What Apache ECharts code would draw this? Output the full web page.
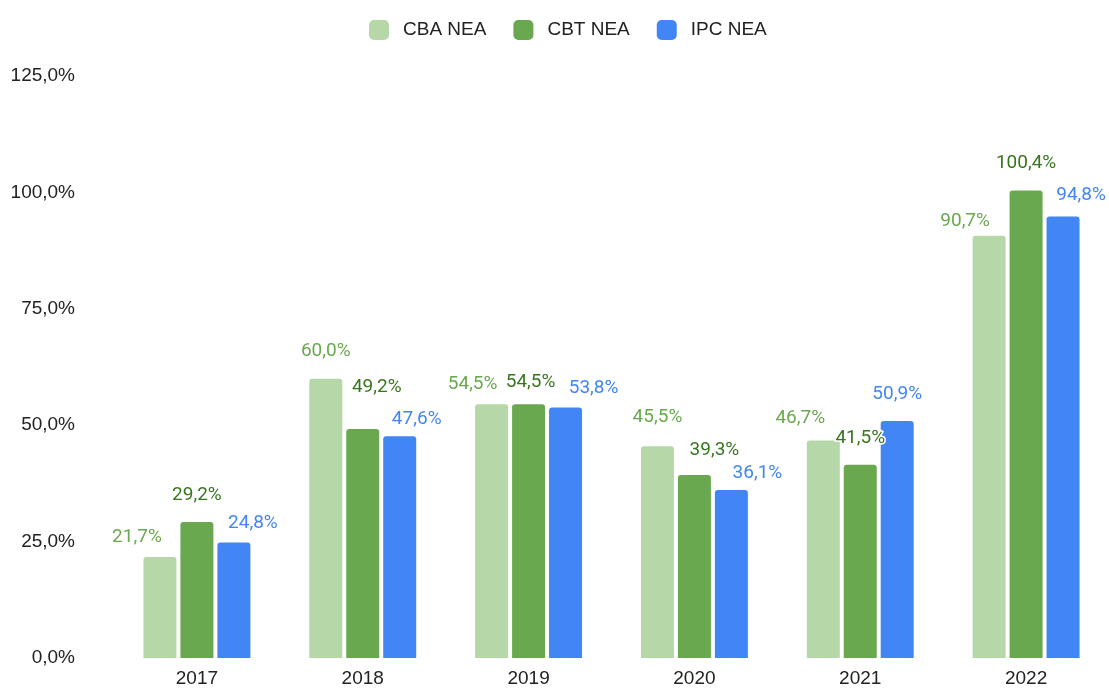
<!DOCTYPE html>
<html>
<head>
<meta charset="utf-8">
<script src="https://cdn.jsdelivr.net/npm/echarts@6/dist/echarts.min.js"></script>
<style>
  html, body { margin: 0; padding: 0; background: #fff; }
  #chart { width: 1109px; height: 688px; }
</style>
</head>
<body>
<div id="chart"></div>
<script>
  // values
  var years = ['2017', '2018', '2019', '2020', '2021', '2022'];
  var cbaNea = [21.7, 60.0, 54.5, 45.5, 46.7, 90.7];
  var cbtNea = [29.2, 49.2, 54.5, 39.3, 41.5, 100.4];
  var ipcNea = [24.8, 47.6, 53.8, 36.1, 50.9, 94.8];

  // label nudges [dx, dy] so the labels sit where the reference puts them
  var cbaNudge = [[-23, -5], [0, -13], [-19, -5], [0, -14], [-23, -8], [-24, 0]];
  var cbtNudge = [[0, -12], [14, -27], [2, -7], [20, -10], [0, -12], [0, -13]];
  var ipcNudge = [[19, -5], [17, -3], [28, -5], [26, -2], [0, -12], [18, -7]];

  function pct(v) {
    return v.toFixed(1).replace('.', ',') + '%';
  }

  function makeSeries(name, values, nudge, barColor, labelColor) {
    var items = [];
    for (var i = 0; i < values.length; i++) {
      items.push({
        value: values[i],
        label: { offset: nudge[i] }
      });
    }
    return {
      name: name,
      type: 'bar',
      barWidth: 33,
      barGap: '12%',
      itemStyle: { color: barColor, borderRadius: [3, 3, 0, 0] },
      label: {
        show: true,
        position: 'top',
        distance: 5,
        color: labelColor,
        fontFamily: 'Roboto',
        fontSize: 19,
        textBorderColor: '#fff',
        textBorderWidth: 3,
        formatter: function (p) { return pct(p.value); }
      },
      data: items
    };
  }

  var chart = echarts.init(document.getElementById('chart'));
  chart.setOption({
    animation: false,
    legend: {
      top: 15,
      left: 364,
      itemWidth: 20,
      itemHeight: 20,
      itemGap: 27,
      icon: 'roundRect',
      textStyle: {
        fontFamily: 'Liberation Sans',
        fontSize: 19,
        color: '#222',
        padding: [0, 0, 0, 9]
      },
      data: ['CBA NEA', 'CBT NEA', 'IPC NEA']
    },
    grid: { left: 114, right: 0, top: 76, bottom: 24 },
    xAxis: {
      type: 'category',
      data: years,
      axisLine: { show: false },
      axisTick: { show: false },
      axisLabel: {
        margin: 11,
        fontFamily: 'Liberation Sans',
        fontSize: 19,
        color: '#222'
      }
    },
    yAxis: {
      type: 'value',
      min: 0,
      max: 125,
      interval: 25,
      splitLine: { show: false },
      axisLine: { show: false },
      axisTick: { show: false },
      axisLabel: {
        margin: 39,
        fontFamily: 'Liberation Sans',
        fontSize: 19,
        color: '#222',
        formatter: pct
      }
    },
    series: [
      makeSeries('CBA NEA', cbaNea, cbaNudge, '#b6d7a8', '#6aa84f'),
      makeSeries('CBT NEA', cbtNea, cbtNudge, '#6aa84f', '#38761d'),
      makeSeries('IPC NEA', ipcNea, ipcNudge, '#4285f4', '#4285f4')
    ]
  });
</script>
</body>
</html>
